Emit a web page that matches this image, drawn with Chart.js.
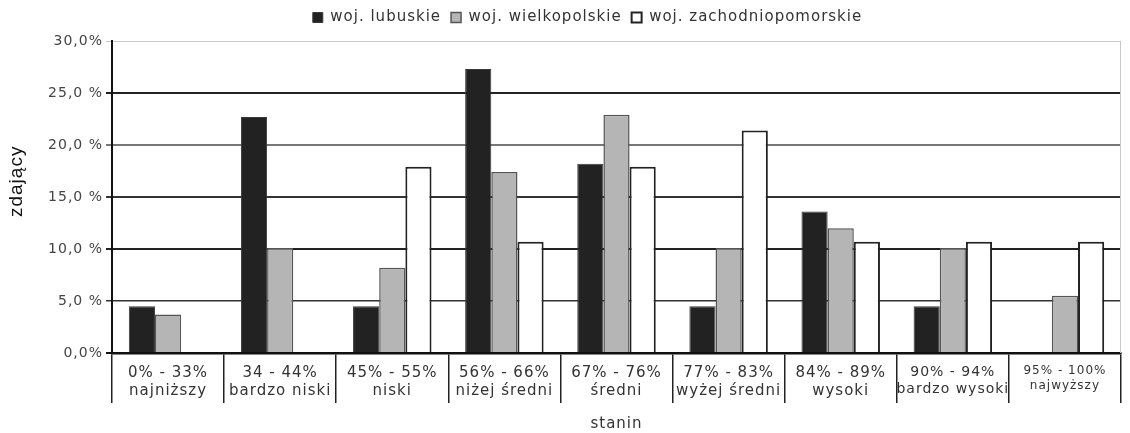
<!DOCTYPE html>
<html>
<head>
<meta charset="utf-8">
<script src="https://cdn.jsdelivr.net/npm/chart.js@4/dist/chart.umd.min.js"></script>
<style>
html,body{margin:0;padding:0;background:#fff;}
#wrap{width:1130px;height:433px;}
</style>
</head>
<body>
<div id="wrap"><canvas id="c" width="1130" height="433"></canvas></div>
<script>
const categories = [
  ["0% - 33%", "najniższy"],
  ["34 - 44%", "bardzo niski"],
  ["45% - 55%", "niski"],
  ["56% - 66%", "niżej średni"],
  ["67% - 76%", "średni"],
  ["77% - 83%", "wyżej średni"],
  ["84% - 89%", "wysoki"],
  ["90% - 94%", "bardzo wysoki"],
  ["95% - 100%", "najwyższy"]
];
const seriesNames = ["woj. lubuskie", "woj. wielkopolskie", "woj. zachodniopomorskie"];
const lubuskie = [4.5, 22.7, 4.5, 27.3, 18.2, 4.5, 13.6, 4.5, 0];
const wielkopolskie = [3.7, 10.1, 8.2, 17.4, 22.9, 10.1, 12.0, 10.1, 5.5];
const zachodniopomorskie = [0, 0, 17.9, 10.7, 17.9, 21.4, 10.7, 10.7, 10.7];
const yTickLabels = {0: "0,0%", 5: "5,0 %", 10: "10,0 %", 15: "15,0 %", 20: "20,0 %", 25: "25,0 %", 30: "30,0%"};
const yTitle = "zdający";
const xTitle = "stanin";

const gridColors = {0: "#111", 5: "#333", 10: "#222", 15: "#333", 20: "#777", 25: "#222", 30: "#c8c8c8"};
const gridWidths = {0: 2, 5: 1.5, 10: 2, 15: 2, 20: 2, 25: 2, 30: 1};

const spacing = {
  id: "spacing",
  beforeInit(chart) {
    chart.ctx.letterSpacing = "1px";
    const lg = chart.legend;
    if (lg) {
      const orig = lg.fit;
      lg.fit = function () { orig.call(this); this.height += 6; };
    }
  },
  beforeDraw(chart) { chart.ctx.letterSpacing = "1px"; }
};

const frame = {
  id: "frame",
  afterDatasetsDraw(chart) {
    const a = chart.chartArea, ctx = chart.ctx;
    ctx.save();
    ctx.strokeStyle = "#c8c8c8";
    ctx.lineWidth = 1;
    ctx.beginPath();
    ctx.moveTo(a.right - 0.5, a.top);
    ctx.lineTo(a.right - 0.5, a.bottom);
    ctx.stroke();
    ctx.restore();
  }
};

new Chart(document.getElementById("c"), {
  type: "bar",
  data: {
    labels: categories,
    datasets: [
      {label: seriesNames[0], data: lubuskie, backgroundColor: "#222222", borderColor: "#3a3a3a", borderWidth: 1},
      {label: seriesNames[1], data: wielkopolskie, backgroundColor: "#b5b5b5", borderColor: "#555555", borderWidth: 1.5},
      {label: seriesNames[2], data: zachodniopomorskie, backgroundColor: "#ffffff", borderColor: "#222222", borderWidth: 2}
    ]
  },
  options: {
    responsive: false,
    animation: false,
    devicePixelRatio: 1,
    layout: {padding: {top: 0, right: 9, left: 0, bottom: 0}},
    datasets: {bar: {categoryPercentage: 0.70, barPercentage: 1.0}},
    plugins: {
      legend: {
        position: "top",
        labels: {
          boxWidth: 10, boxHeight: 10, padding: 10,
          color: "#333",
          font: {family: "DejaVu Sans", size: 15}
        }
      },
      tooltip: {enabled: false}
    },
    scales: {
      x: {
        grid: {drawOnChartArea: false, drawTicks: true, tickLength: 50, color: "#222", lineWidth: 1.5, offset: true},
        border: {display: true, color: "#111", width: 2.5},
        ticks: {
          color: "#333",
          padding: -39,
          maxRotation: 0, autoSkip: false,
          font: (ctx) => ({family: "DejaVu Sans", size: ctx.index === 8 ? 12 : (ctx.index === 7 ? 14 : 15)})
        },
        title: {display: true, text: xTitle, color: "#333", font: {family: "DejaVu Sans", size: 15}, padding: {top: 4, bottom: 0}},
        afterFit: (s) => { s.height = 80; }
      },
      y: {
        min: 0, max: 30,
        ticks: {
          stepSize: 5,
          color: "#444",
          padding: 3,
          font: {family: "DejaVu Sans", size: 14},
          callback: (v) => yTickLabels[v]
        },
        grid: {
          color: (ctx) => gridColors[ctx.tick.value],
          lineWidth: (ctx) => gridWidths[ctx.tick.value],
          tickLength: 6, drawTicks: true
        },
        border: {display: true, color: "#111", width: 2},
        title: {display: true, text: "     " + yTitle, color: "#111", font: {family: "Liberation Sans", size: 19}, padding: {top: 5, bottom: 1}},
        afterFit: (s) => { s.width = 112; }
      }
    }
  },
  plugins: [spacing, frame]
});
</script>
</body>
</html>
